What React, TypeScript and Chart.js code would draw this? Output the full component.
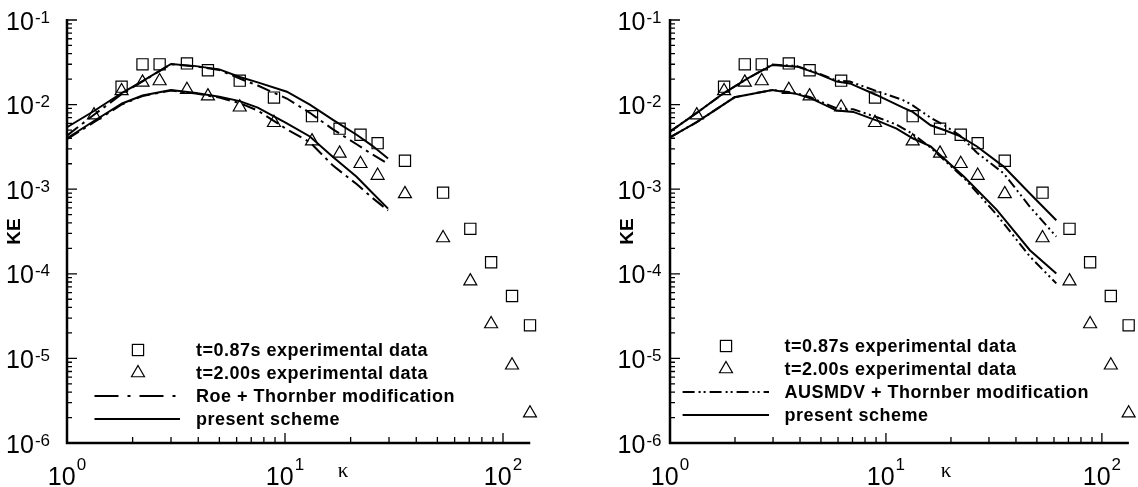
import React, { useEffect, useRef } from "react";
import { Chart, registerables } from "chart.js";

Chart.register(...registerables);

// ---------- experimental data (same in both panels) ----------
const kExp087 = [1.78, 2.22, 2.66, 3.55, 4.43, 6.2, 8.9, 13.3, 17.8, 22.2, 26.6, 35.5, 53.1, 70.8, 88.2, 110, 133];
const keExp087 = [0.0163, 0.0299, 0.0299, 0.0307, 0.0255, 0.0192, 0.0121, 0.0073, 0.0052, 0.0044, 0.0035, 0.00217, 0.00091, 0.00034, 0.000137, 0.0000547, 0.0000246];
const kExp200 = [1.33, 1.78, 2.22, 2.66, 3.55, 4.43, 6.2, 8.9, 13.3, 17.8, 22.2, 26.6, 35.5, 53.1, 70.8, 88.2, 110, 133];
const keExp200 = [0.0075, 0.0145, 0.0183, 0.019, 0.015, 0.0126, 0.0093, 0.0061, 0.0037, 0.00265, 0.002, 0.00145, 0.00088, 0.000265, 0.000082, 0.0000255, 0.0000083, 0.00000225];

// ---------- left panel: Roe + Thornber vs present ----------
const kLeft = [1.0, 1.33, 1.79, 2.22, 3.0, 3.9, 5.0, 6.2, 7.5, 10.2, 13.0, 16.6, 21.3, 25.0, 29.7];
const keLeftPresent087 = [0.0054, 0.0084, 0.0138, 0.019, 0.0302, 0.0285, 0.0261, 0.0212, 0.0183, 0.0142, 0.01, 0.0066, 0.0044, 0.0033, 0.0023];
const keLeftRoe087 = [0.0043, 0.0076, 0.0134, 0.0188, 0.03, 0.0283, 0.0256, 0.0203, 0.0168, 0.0118, 0.008, 0.0051, 0.0034, 0.0026, 0.002];
const keLeftPresent200 = [0.004, 0.0064, 0.0103, 0.0128, 0.0149, 0.0137, 0.0124, 0.011, 0.0092, 0.006, 0.0042, 0.0024, 0.0014, 0.00092, 0.00059];
const keLeftRoe200 = [0.0039, 0.0062, 0.0101, 0.0126, 0.0147, 0.0135, 0.0121, 0.0104, 0.0085, 0.0051, 0.0036, 0.0019, 0.00115, 0.0008, 0.00056];

// ---------- right panel: AUSMDV + Thornber vs present ----------
const kRight087 = [1.0, 1.35, 1.77, 2.29, 2.98, 3.88, 4.79, 5.92, 6.81, 9.03, 12.0, 13.3, 16.1, 18.6, 22.0, 26.4, 35.1, 46.4, 61.5];
const keRightPresent087 = [0.0048, 0.0082, 0.0136, 0.0204, 0.0294, 0.0281, 0.0234, 0.0187, 0.0178, 0.013, 0.0092, 0.0082, 0.0057, 0.005, 0.00425, 0.0032, 0.00185, 0.00089, 0.00043];
const keRightAusm087 = [0.0048, 0.0082, 0.0136, 0.0204, 0.0298, 0.0285, 0.0238, 0.0192, 0.0187, 0.0145, 0.0113, 0.0098, 0.007, 0.0057, 0.0043, 0.0027, 0.00154, 0.00062, 0.000275];
const kRight200 = [1.0, 1.33, 1.99, 2.98, 3.88, 4.47, 5.92, 7.06, 9.36, 11.2, 13.3, 16.1, 23.0, 32.6, 46.4, 61.5];
const keRightPresent200 = [0.0041, 0.0062, 0.0122, 0.0149, 0.0133, 0.0119, 0.0085, 0.0082, 0.0063, 0.0052, 0.004, 0.0032, 0.0014, 0.00057, 0.00019, 0.000101];
const keRightAusm200 = [0.0041, 0.0062, 0.0122, 0.0149, 0.0136, 0.0122, 0.009, 0.0088, 0.0069, 0.0058, 0.0045, 0.0031, 0.00135, 0.0005, 0.00016, 0.000077];

// ---------- axes / ticks ----------
const X_MIN = 1;
const X_MAX = 133.35;
const Y_MIN = 1e-6;
const Y_MAX = 1e-1;
const xTickValues = [1, 10, 100];
const xTickExponents = ["0", "1", "2"];
const yTickValues = [1e-6, 1e-5, 1e-4, 1e-3, 1e-2, 1e-1];
const yTickExponents = ["-6", "-5", "-4", "-3", "-2", "-1"];
const xTitle = "κ";
const yTitle = "KE";

const leftLegendLabels = ["t=0.87s experimental data", "t=2.00s experimental data", "Roe + Thornber modification", "present scheme"];
const rightLegendLabels = ["t=0.87s experimental data", "t=2.00s experimental data", "AUSMDV + Thornber modification", "present scheme"];

const SANS = "'Liberation Sans', Arial, Helvetica, sans-serif";
const SERIF = "'Liberation Serif', 'Times New Roman', serif";
const SQ_SIDE = 11.2;
const TRI_R = 7.5;

interface PanelSpec {
  width: number;
  padLeft: number;
  padRight: number;
  k087: number[];
  present087: number[];
  model087: number[];
  k200: number[];
  present200: number[];
  model200: number[];
  modelDash: number[];
  legendDash: number[];
  legendLabels: string[];
  legendRows: number[];
  legendSymX: number;
  legendLineX0: number;
  legendLineX1: number;
  legendTextX: number;
  yLabelGap: number;
  keOffset: number;
}

const leftSpec: PanelSpec = {
  width: 569,
  padLeft: 67,
  padRight: 38.75,
  k087: kLeft,
  present087: keLeftPresent087,
  model087: keLeftRoe087,
  k200: kLeft,
  present200: keLeftPresent200,
  model200: keLeftRoe200,
  modelDash: [14, 5, 3, 5],
  legendDash: [24, 9, 3, 9],
  legendLabels: leftLegendLabels,
  legendRows: [350, 373, 396, 419],
  legendSymX: 138,
  legendLineX0: 94.5,
  legendLineX1: 180,
  legendTextX: 196,
  yLabelGap: 17,
  keOffset: 52.5,
};

const rightSpec: PanelSpec = {
  width: 569,
  padLeft: 101,
  padRight: 4.75,
  k087: kRight087,
  present087: keRightPresent087,
  model087: keRightAusm087,
  k200: kRight200,
  present200: keRightPresent200,
  model200: keRightAusm200,
  modelDash: [10, 3.5, 2, 3.5, 2, 3.5],
  legendDash: [12, 4, 2, 3, 2, 4],
  legendLabels: rightLegendLabels,
  legendRows: [346, 369, 392, 415],
  legendSymX: 157,
  legendLineX0: 113.6,
  legendLineX1: 200,
  legendTextX: 215.5,
  yLabelGap: 8.5,
  keOffset: 42.5,
};

const pts = (k: number[], e: number[]) => k.map((x, i) => ({ x, y: e[i] }));

function lineDs(k: number[], e: number[], dash: number[]) {
  return {
    data: pts(k, e),
    showLine: true,
    borderColor: "#000",
    borderWidth: 2,
    borderDash: dash,
    pointRadius: 0,
    tension: 0,
    fill: false,
    clip: false as any,
  };
}

function markerDs(k: number[], e: number[], style: string, r: number) {
  return {
    data: pts(k, e),
    showLine: false,
    pointStyle: style,
    pointRadius: r,
    borderColor: "#000",
    backgroundColor: "rgba(0,0,0,0)",
    borderWidth: 1.2,
    pointBorderWidth: 1.2,
    clip: false as any,
  };
}

function makeDecor(spec: PanelSpec) {
  return {
    id: "decor",
    afterDraw(chart: any) {
      const ctx: CanvasRenderingContext2D = chart.ctx;
      const xs = chart.scales.x;
      const ys = chart.scales.y;
      const { left: L, right: R, top: T, bottom: B } = chart.chartArea;
      ctx.save();
      ctx.strokeStyle = "#000";
      ctx.fillStyle = "#000";
      ctx.lineCap = "butt";
      ctx.setLineDash([]);

      // tick marks (inward)
      ctx.lineWidth = 1.3;
      ctx.beginPath();
      for (const d of xTickValues) {
        for (let m = 1; m <= 9; m++) {
          const v = m * d;
          if (v > X_MAX * 1.0001) continue;
          const px = xs.getPixelForValue(v);
          const len = m === 1 ? 10 : 6;
          ctx.moveTo(px, B);
          ctx.lineTo(px, B - len);
        }
      }
      for (const d of yTickValues) {
        for (let m = 1; m <= 9; m++) {
          const v = m * d;
          if (v > Y_MAX * 1.0001) continue;
          const py = ys.getPixelForValue(v);
          const len = m === 1 ? 10 : 5;
          ctx.moveTo(L, py);
          ctx.lineTo(L + len, py);
        }
      }
      ctx.stroke();

      // axis lines
      ctx.lineWidth = 2.5;
      ctx.beginPath();
      ctx.moveTo(L, T - 1);
      ctx.lineTo(L, B);
      ctx.lineTo(R, B);
      ctx.stroke();

      // power-of-ten labels
      const mainFont = `25px ${SANS}`;
      const supFont = `17px ${SANS}`;
      const drawPow = (exp: string, x: number, baseline: number, align: "center" | "right", raise: number) => {
        ctx.font = mainFont;
        const wMain = ctx.measureText("10").width;
        ctx.font = supFont;
        const wSup = ctx.measureText(exp).width;
        const total = wMain + 1 + wSup;
        const x0 = align === "center" ? x - total / 2 : x - total;
        ctx.textAlign = "left";
        ctx.textBaseline = "alphabetic";
        ctx.font = mainFont;
        ctx.fillText("10", x0, baseline);
        ctx.font = supFont;
        ctx.fillText(exp, x0 + wMain + 1, baseline - raise);
      };
      xTickValues.forEach((v, i) => {
        drawPow(xTickExponents[i], xs.getPixelForValue(v), B + 42, "center", 15);
      });
      yTickValues.forEach((v, i) => {
        drawPow(yTickExponents[i], L - spec.yLabelGap, ys.getPixelForValue(v) + 9.5, "right", 7);
      });

      // axis titles
      ctx.save();
      ctx.translate(L - spec.keOffset, 231.5);
      ctx.rotate(-Math.PI / 2);
      ctx.font = `bold 19px ${SANS}`;
      ctx.textAlign = "center";
      ctx.textBaseline = "middle";
      ctx.fillText(yTitle, 0, 0);
      ctx.restore();

      ctx.font = `21px ${SERIF}`;
      ctx.textAlign = "center";
      ctx.textBaseline = "alphabetic";
      ctx.fillText(xTitle, L + 276, 477);

      // legend
      const rows = spec.legendRows;
      const sx = spec.legendSymX;
      ctx.lineWidth = 1.2;
      ctx.strokeRect(sx - SQ_SIDE / 2, rows[0] - SQ_SIDE / 2, SQ_SIDE, SQ_SIDE);
      ctx.beginPath();
      ctx.moveTo(sx, rows[1] - TRI_R);
      ctx.lineTo(sx + TRI_R * Math.sin((2 * Math.PI) / 3), rows[1] + TRI_R / 2);
      ctx.lineTo(sx - TRI_R * Math.sin((2 * Math.PI) / 3), rows[1] + TRI_R / 2);
      ctx.closePath();
      ctx.stroke();

      ctx.lineWidth = 2;
      ctx.setLineDash(spec.legendDash);
      ctx.beginPath();
      ctx.moveTo(spec.legendLineX0, rows[2]);
      ctx.lineTo(spec.legendLineX1, rows[2]);
      ctx.stroke();
      ctx.setLineDash([]);
      ctx.beginPath();
      ctx.moveTo(spec.legendLineX0, rows[3]);
      ctx.lineTo(spec.legendLineX1, rows[3]);
      ctx.stroke();

      ctx.font = `bold 18px ${SANS}`;
      (ctx as any).letterSpacing = "0.5px";
      ctx.textAlign = "left";
      ctx.textBaseline = "middle";
      spec.legendLabels.forEach((t, i) => ctx.fillText(t, spec.legendTextX, rows[i] + 1));
      (ctx as any).letterSpacing = "0px";
      ctx.restore();
    },
  };
}

function Panel({ spec }: { spec: PanelSpec }) {
  const ref = useRef<HTMLCanvasElement | null>(null);
  useEffect(() => {
    if (!ref.current) return;
    const chart = new Chart(ref.current, {
      type: "scatter",
      data: {
        datasets: [
          lineDs(spec.k087, spec.model087, spec.modelDash),
          lineDs(spec.k200, spec.model200, spec.modelDash),
          lineDs(spec.k087, spec.present087, []),
          lineDs(spec.k200, spec.present200, []),
          markerDs(kExp087, keExp087, "rect", (SQ_SIDE / 2) / Math.SQRT1_2),
          markerDs(kExp200, keExp200, "triangle", TRI_R),
        ] as any,
      },
      options: {
        responsive: false,
        animation: false,
        events: [],
        layout: { padding: { left: spec.padLeft, right: spec.padRight, top: 20, bottom: 44 } },
        scales: {
          x: { type: "logarithmic", min: X_MIN, max: X_MAX, display: false },
          y: { type: "logarithmic", min: Y_MIN, max: Y_MAX, display: false },
        },
        plugins: { legend: { display: false }, tooltip: { enabled: false } },
      } as any,
      plugins: [makeDecor(spec)],
    });
    return () => chart.destroy();
  }, [spec]);
  return <canvas ref={ref} width={spec.width} height={487} style={{ display: "block" }} />;
}

export default function App() {
  return (
    <div
      style={{
        position: "absolute",
        left: 0,
        top: 0,
        width: 1138,
        height: 487,
        display: "flex",
        background: "#fff",
        overflow: "hidden",
      }}
    >
      <Panel spec={leftSpec} />
      <Panel spec={rightSpec} />
    </div>
  );
}
